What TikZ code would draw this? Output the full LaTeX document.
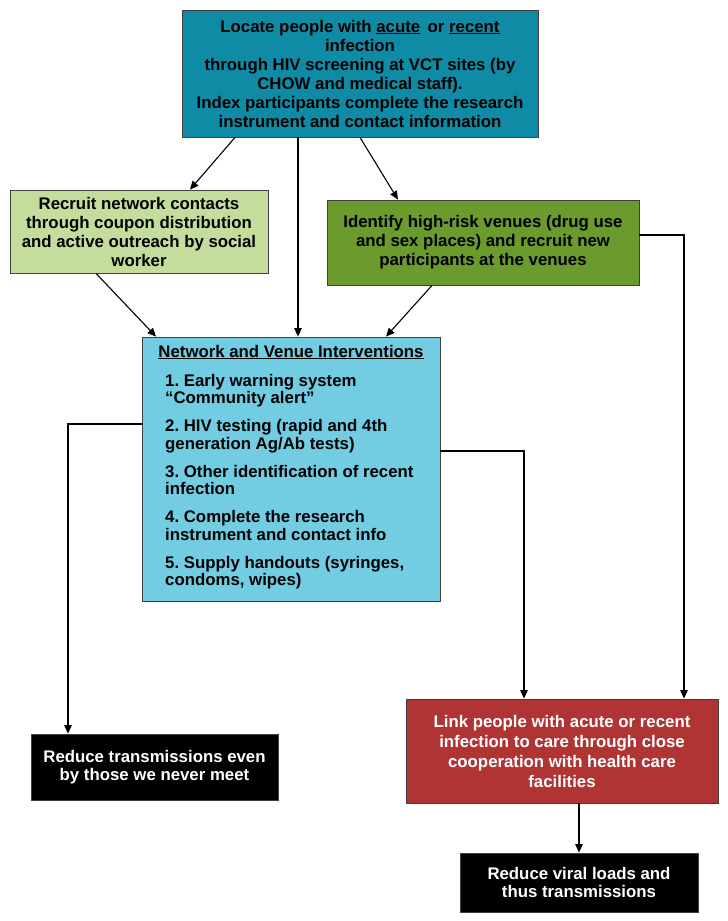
\documentclass[tikz,border=0pt]{standalone}
\usepackage{fontspec}
\setmainfont{Liberation Sans}
\usetikzlibrary{arrows.meta}
\definecolor{topc}{HTML}{0F8BA5}
\definecolor{lgreen}{HTML}{C4DD9C}
\definecolor{dgreen}{HTML}{6B9A2D}
\definecolor{lblue}{HTML}{72CDE2}
\definecolor{redc}{HTML}{B03434}
\frenchspacing
\begin{document}
\begin{tikzpicture}[x=1pt,y=-1pt,
 box/.style={draw=black!75, line width=0.8pt, inner sep=0pt, font=\fontsize{16.8}{19}\selectfont\bfseries, align=center},
 txt/.style={inner sep=0pt, font=\fontsize{16.8}{17.5}\selectfont\bfseries},
 arr/.style={-{Triangle[length=8.5pt,width=7.5pt]}, line width=1.1pt},
 ln/.style={line width=1.1pt}]
\useasboundingbox (0,0) rectangle (728,921);
\node[box, fill=topc, minimum width=356, minimum height=127] (top) at (360,73.5)
 {Locate people with \underline{acute}\, or \underline{recent}\\ infection\\ through HIV screening at VCT sites (by\\ CHOW and medical staff).\\ Index participants complete the research\\ instrument and contact information};
\node[box, fill=lgreen, minimum width=258, minimum height=83] (lg) at (139,231.5)
 {Recruit network contacts\\ through coupon distribution\\ and active outreach by social\\ worker};
\node[box, fill=dgreen, minimum width=312, minimum height=85] (dg) at (483,242.5)
 {Identify high-risk venues (drug use\\ and sex places) and recruit new\\ participants at the venues};
\node[box, fill=lblue, minimum width=298, minimum height=264] (ctr) at (291,469) {};
\node[txt, anchor=center] (ctrhead) at (291,352) {\underline{Network and Venue Interventions}};
\node[txt, anchor=north west, align=left] (ctrlist) at (165,374)
 {1. Early warning system\\ ``Community alert''\\[10.5pt]
  2. HIV testing (rapid and 4th\\ generation Ag/Ab tests)\\[10.5pt]
  3. Other identification of recent\\ infection\\[10.5pt]
  4. Complete the research\\ instrument and contact info\\[10.5pt]
  5. Supply handouts (syringes,\\ condoms, wipes)};
\node[box, fill=redc, text=white, font=\fontsize{16.8}{20}\selectfont\bfseries, minimum width=312, minimum height=104] (red) at (562,751)
 {Link people with acute or recent\\ infection to care through close\\ cooperation with health care\\ facilities};
\node[box, fill=black, text=white, font=\fontsize{16.8}{18.5}\selectfont\bfseries, minimum width=247, minimum height=66] (bl) at (154.5,767)
 {Reduce transmissions even\\ by those we never meet};
\node[box, fill=black, text=white, font=\fontsize{16.8}{18.5}\selectfont\bfseries, minimum width=238, minimum height=59] (bb) at (579,882.5)
 {Reduce viral loads and\\ thus transmissions};
% connectors
\draw[arr] ([xshift=-125pt]top.south) -- ([xshift=51pt]lg.north);
\draw[arr] ([xshift=-62pt]top.south) -- ([xshift=-62pt]top.south |- ctr.north);
\draw[arr] (top.south) -- ([xshift=-85pt]dg.north);
\draw[arr] ([xshift=-43pt]lg.south) -- ([xshift=-135pt]ctr.north);
\draw[arr] ([xshift=-51pt]dg.south) -- ([xshift=95pt]ctr.north);
\coordinate (c1) at ([xshift=122pt]red.north);
\draw[arr] ([yshift=7.5pt]dg.east) -| (c1);
\coordinate (c2) at ([xshift=-38pt]red.north);
\draw[arr] ([yshift=18pt]ctr.east) -| (c2);
\coordinate (c3) at ([xshift=-86.5pt]bl.north);
\draw[arr] ([yshift=45pt]ctr.west) -| (c3);
\draw[arr] (red.south -| bb.north) -- (bb.north);
\end{tikzpicture}
\end{document}
